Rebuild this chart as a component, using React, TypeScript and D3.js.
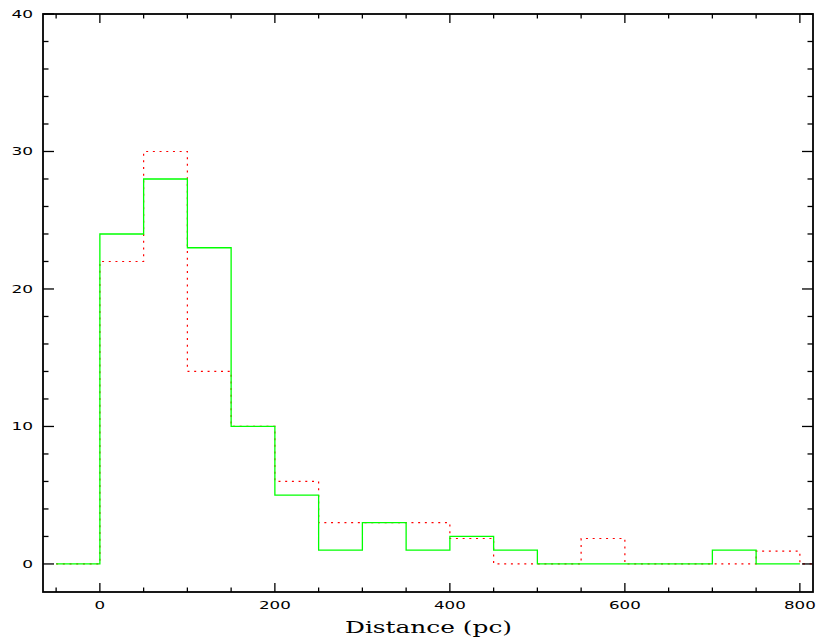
import React from "react";
import * as d3 from "d3";

const binStarts = [-50, 0, 50, 100, 150, 200, 250, 300, 350, 400, 450, 500, 550, 600, 650, 700, 750, 800];
const binWidth = 50;
const greenCounts = [0, 24, 28, 23, 10, 5, 1, 3, 1, 2, 1, 0, 0, 0, 0, 1, 0];
const redCounts = [0, 22, 30, 14, 10, 6, 3, 3, 3, 1.85, 0, 0, 1.85, 0, 0, 0, 0.93, 0];
const xTickLabels = [0, 200, 400, 600, 800];
const yTickLabels = [0, 10, 20, 30, 40];
const xLabel = "Distance (pc)";

const W = 817, H = 639;
const L = 43, R = 813, T = 14, B = 592;

export default function App() {
  const x = d3.scaleLinear().domain([-65, 815]).range([L, R]);
  const y = d3.scaleLinear().domain([-2.04, 40]).range([B, T]);

  const stepPath = (vals: number[]) => {
    const pts: [number, number][] = vals.map((v, i) => [binStarts[i], v]);
    const lastEnd = binStarts[vals.length - 1] + binWidth;
    pts.push([lastEnd, vals[vals.length - 1]]);
    pts.push([lastEnd, 0]);
    return d3.line<[number, number]>().x(d => x(d[0])).y(d => y(d[1])).curve(d3.curveStepAfter)(pts) || "";
  };

  const xMinor = d3.range(-50, 801, 50);
  const yMinor = d3.range(-2, 41, 2);
  const labelFont = "DejaVu Sans";

  return (
    <svg width={W} height={H} style={{ position: "absolute", left: 0, top: 0, background: "#fff" }}>
      <defs>
        <clipPath id="plotclip">
          <rect x={L} y={T} width={R - L} height={B - T} />
        </clipPath>
      </defs>
      <rect x={0} y={0} width={W} height={H} fill="#fff" />
      <g clipPath="url(#plotclip)">
        <path d={stepPath(redCounts)} fill="none" stroke="#ff0000" strokeWidth={1.2} strokeDasharray="2,4.7" />
        <path d={stepPath(greenCounts)} fill="none" stroke="#00ff00" strokeWidth={1.3} />
      </g>
      {/* ticks */}
      <g stroke="#000" strokeWidth={1.3}>
        {xMinor.map(v => {
          const major = v % 200 === 0;
          const len = major ? 9 : 4.5;
          return (
            <g key={"xt" + v}>
              <line x1={x(v)} x2={x(v)} y1={B} y2={B - len} />
              <line x1={x(v)} x2={x(v)} y1={T} y2={T + len} />
            </g>
          );
        })}
        {yMinor.filter(v => v >= 0).map(v => {
          const major = v % 10 === 0;
          const len = major ? 11 : 5.5;
          return (
            <g key={"yt" + v}>
              <line x1={L} x2={L + len} y1={y(v)} y2={y(v)} />
              <line x1={R} x2={R - len} y1={y(v)} y2={y(v)} />
            </g>
          );
        })}
      </g>
      <rect x={L} y={T} width={R - L} height={B - T} fill="none" stroke="#000" strokeWidth={1.8} />
      {/* tick labels */}
      {xTickLabels.map(v => {
        const s = String(v);
        return (
          <text key={"xl" + v} x={x(v)} y={609} textAnchor="middle" fontFamily={labelFont} fontSize={11}
            textLength={s.length * 10.6} lengthAdjust="spacingAndGlyphs" fill="#000">{s}</text>
        );
      })}
      {yTickLabels.map(v => {
        const s = String(v);
        const w = s.length * 10.8;
        return (
          <text key={"yl" + v} x={33 - w} y={y(v) + 4} textAnchor="start" fontFamily={labelFont} fontSize={11}
            textLength={w} lengthAdjust="spacingAndGlyphs" fill="#000">{s}</text>
        );
      })}
      <text x={345} y={633} fontFamily="DejaVu Serif" fontSize={17} textLength={167} lengthAdjust="spacingAndGlyphs" fill="#000">{xLabel}</text>
    </svg>
  );
}
